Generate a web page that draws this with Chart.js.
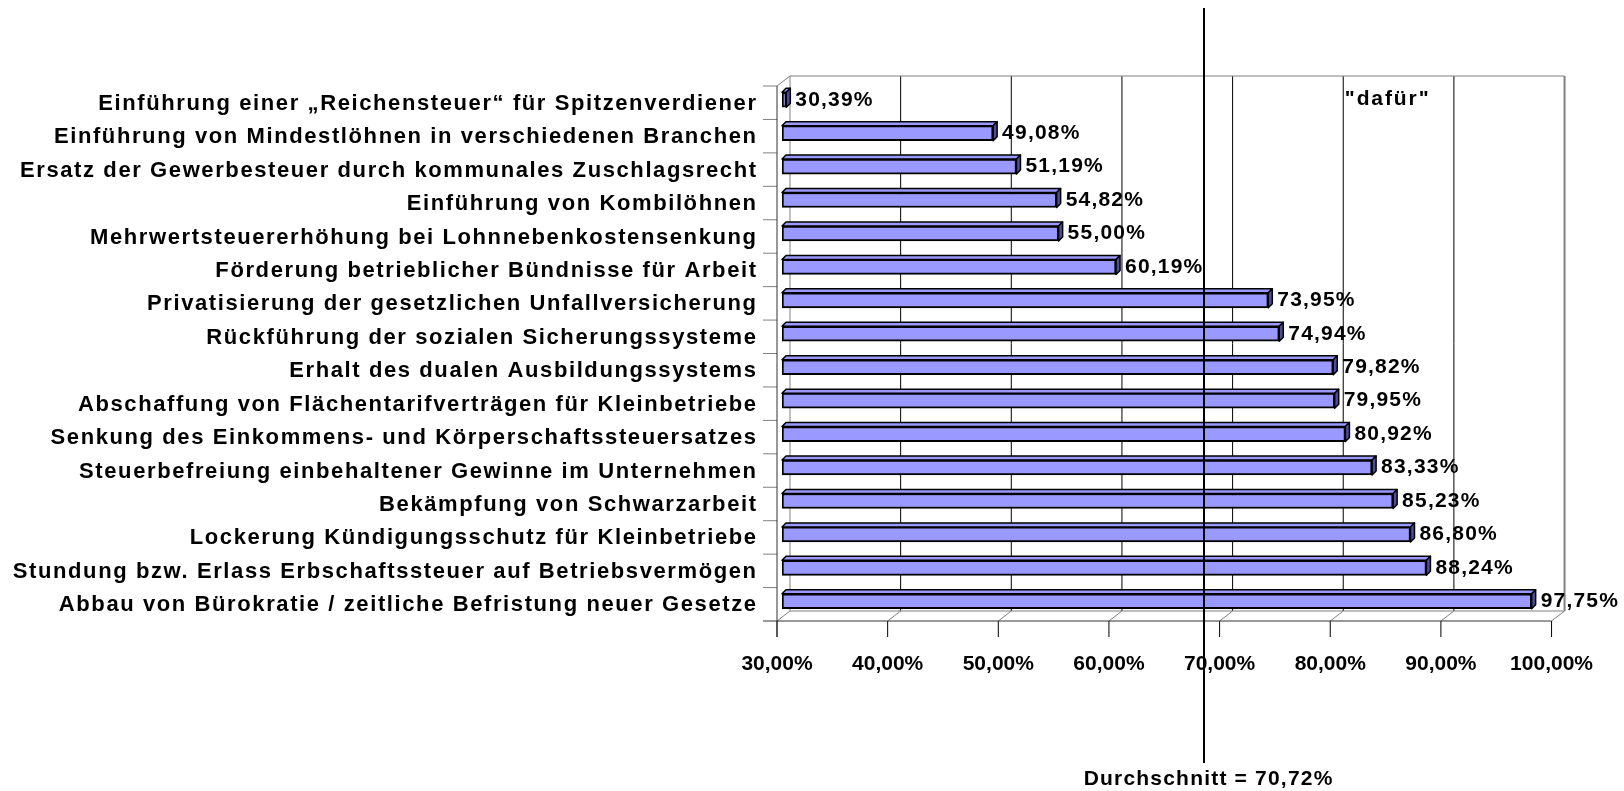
<!DOCTYPE html>
<html>
<head>
<meta charset="utf-8">
<script src="https://cdn.jsdelivr.net/npm/chart.js@4"></script>
<style>
    body { margin: 0; background: #fff; }
    #wrap { position: relative; width: 1624px; height: 791px; }
</style>
</head>
<body>
<div id="wrap"><canvas id="chart"></canvas></div>
<script>
// Daten (von oben nach unten)
const categories = [
    'Einführung einer „Reichensteuer“ für Spitzenverdiener',
    'Einführung von Mindestlöhnen in verschiedenen Branchen',
    'Ersatz der Gewerbesteuer durch kommunales Zuschlagsrecht',
    'Einführung von Kombilöhnen',
    'Mehrwertsteuererhöhung bei Lohnnebenkostensenkung',
    'Förderung betrieblicher Bündnisse für Arbeit',
    'Privatisierung der gesetzlichen Unfallversicherung',
    'Rückführung der sozialen Sicherungssysteme',
    'Erhalt des dualen Ausbildungssystems',
    'Abschaffung von Flächentarifverträgen für Kleinbetriebe',
    'Senkung des Einkommens- und Körperschaftssteuersatzes',
    'Steuerbefreiung einbehaltener Gewinne im Unternehmen',
    'Bekämpfung von Schwarzarbeit',
    'Lockerung Kündigungsschutz für Kleinbetriebe',
    'Stundung bzw. Erlass Erbschaftssteuer auf Betriebsvermögen',
    'Abbau von Bürokratie / zeitliche Befristung neuer Gesetze'
];
const values = [30.39, 49.08, 51.19, 54.82, 55.00, 60.19, 73.95, 74.94, 79.82, 79.95, 80.92, 83.33, 85.23, 86.80, 88.24, 97.75];
const xMin = 30;
const xMax = 100;
const xStep = 10;
const seriesLabel = '"dafür"';
const seriesLabelAt = 85.1;
const average = 70.72;
const averageLineAt = 68.6; // wo die Linie im Original gezeichnet ist
const averageLabel = 'Durchschnitt = ';

const FAMILY = '"Liberation Sans", Arial, sans-serif';
const DX = 13, DY = -10;   // Tiefe der Rückwand
const BX = 5, BY = -3;     // Versatz der Balken
const BD = 4;              // Balkentiefe

const fmt = v => v.toFixed(2).replace('.', ',') + '%';

function spacedText(ctx, text, x, y, align, size, spacing) {
    ctx.font = `bold ${size}px ${FAMILY}`;
    ctx.letterSpacing = spacing + 'px';
    ctx.fillStyle = '#000';
    ctx.textBaseline = 'middle';
    ctx.textAlign = align;
    const shift = align === 'right' ? spacing : align === 'center' ? spacing / 2 : 0;
    ctx.fillText(text, x + shift, y);
}

const box3d = {
    id: 'box3d',
    beforeDatasetsDraw(chart) {
        const { ctx, chartArea: a, scales: { x, y } } = chart;
        ctx.save();
        // Rückwand + Gitter
        for (let v = xMin; v <= xMax; v += xStep) {
            const px = x.getPixelForValue(v);
            const edge = v === xMin || v === xMax;
            ctx.strokeStyle = edge ? '#808080' : '#000';
            ctx.lineWidth = v === xMax ? 2 : 1;
            ctx.beginPath();
            ctx.moveTo(px + DX, a.top + DY);
            ctx.lineTo(px + DX, a.bottom + DY);
            ctx.stroke();
            ctx.strokeStyle = '#808080';
            ctx.lineWidth = 1;
            ctx.beginPath();
            ctx.moveTo(px, a.bottom);
            ctx.lineTo(px + DX, a.bottom + DY);
            ctx.stroke();
            ctx.strokeStyle = '#000';
            ctx.beginPath();
            ctx.moveTo(px, a.bottom);
            ctx.lineTo(px, a.bottom + 16);
            ctx.stroke();
        }
        ctx.strokeStyle = '#808080';
        ctx.lineWidth = 1;
        ctx.beginPath();
        ctx.moveTo(a.left + DX, a.top + DY);
        ctx.lineTo(a.right + DX, a.top + DY);
        ctx.moveTo(a.left + DX, a.bottom + DY);
        ctx.lineTo(a.right + DX, a.bottom + DY);
        ctx.moveTo(a.left, a.top);
        ctx.lineTo(a.left + DX, a.top + DY);
        ctx.stroke();
        const n = categories.length;
        const step = (a.bottom - a.top) / n;
        for (let i = 0; i < n; i++) {
            const ty = a.top + i * step;
            ctx.beginPath();
            ctx.moveTo(a.left - 14, ty);
            ctx.lineTo(a.left, ty);
            ctx.stroke();
        }
        ctx.strokeStyle = '#333';
        ctx.beginPath();
        ctx.moveTo(a.left - 14, a.bottom);
        ctx.lineTo(a.right, a.bottom);
        ctx.moveTo(a.left, a.top);
        ctx.lineTo(a.left, a.bottom + 16);
        ctx.stroke();

        // Kategorien
        categories.forEach((c, i) => {
            spacedText(ctx, c, a.left - 21, y.getPixelForValue(i) + 1, 'right', 22, 1.6);
        });
        ctx.restore();

        ctx.save();
        ctx.translate(BX, BY);
    },
    afterDatasetsDraw(chart) {
        const { ctx } = chart;
        const meta = chart.getDatasetMeta(0);
        meta.data.forEach(bar => {
            const p = bar.getProps(['x', 'y', 'base', 'height'], true);
            const top = p.y - p.height / 2, bottom = p.y + p.height / 2;
            const left = p.base, right = p.x;
            ctx.strokeStyle = '#000';
            ctx.lineWidth = 1.5;
            ctx.lineJoin = 'round';
            ctx.fillStyle = '#9999ff';
            ctx.beginPath();
            ctx.moveTo(left, top);
            ctx.lineTo(left + BD, top - BD);
            ctx.lineTo(right + BD, top - BD);
            ctx.lineTo(right, top);
            ctx.closePath();
            ctx.fill();
            ctx.stroke();
            ctx.fillStyle = '#4d4d99';
            ctx.beginPath();
            ctx.moveTo(right, top);
            ctx.lineTo(right + BD, top - BD);
            ctx.lineTo(right + BD, bottom - BD);
            ctx.lineTo(right, bottom);
            ctx.closePath();
            ctx.fill();
            ctx.stroke();
        });
        ctx.restore();

        ctx.save();
        meta.data.forEach((bar, i) => {
            const p = bar.getProps(['x', 'y'], true);
            spacedText(ctx, fmt(values[i]), p.x + BX + BD + 5, p.y + BY, 'left', 21, 1.2);
        });
        ctx.restore();
    },
    afterDraw(chart) {
        const { ctx, chartArea: a, scales: { x } } = chart;
        ctx.save();
        const ax = Math.round(x.getPixelForValue(averageLineAt));
        ctx.strokeStyle = '#000';
        ctx.lineWidth = 2;
        ctx.beginPath();
        ctx.moveTo(ax, 8);
        ctx.lineTo(ax, 763);
        ctx.stroke();
        spacedText(ctx, averageLabel + fmt(average), ax + 4, 779, 'center', 21, 1.2);
        spacedText(ctx, seriesLabel, x.getPixelForValue(seriesLabelAt), a.top + 13, 'center', 21, 1.9);
        ctx.restore();
    }
};

new Chart(document.getElementById('chart'), {
    type: 'bar',
    data: {
        labels: categories,
        datasets: [{
            label: seriesLabel,
            data: values,
            backgroundColor: '#9999ff',
            borderColor: '#000',
            borderWidth: 2,
            borderSkipped: false,
            barThickness: 15,
            base: xMin
        }]
    },
    options: {
        indexAxis: 'y',
        responsive: true,
        maintainAspectRatio: false,
        animation: false,
        layout: { padding: { top: 86, right: 69, left: 0, bottom: 0 } },
        plugins: { legend: { display: false }, tooltip: { enabled: false } },
        scales: {
            x: {
                min: xMin,
                max: xMax,
                grid: { display: false, drawTicks: false },
                border: { display: false },
                afterFit: s => { s.height = 170; },
                ticks: {
                    stepSize: xStep,
                    padding: 31,
                    maxRotation: 0,
                    color: '#000',
                    font: { family: FAMILY, size: 21, weight: 'bold' },
                    callback: v => fmt(v)
                }
            },
            y: {
                grid: { display: false, drawTicks: false },
                border: { display: false },
                afterFit: s => { s.width = 777; },
                ticks: { display: false }
            }
        }
    },
    plugins: [box3d]
});
</script>
</body>
</html>
